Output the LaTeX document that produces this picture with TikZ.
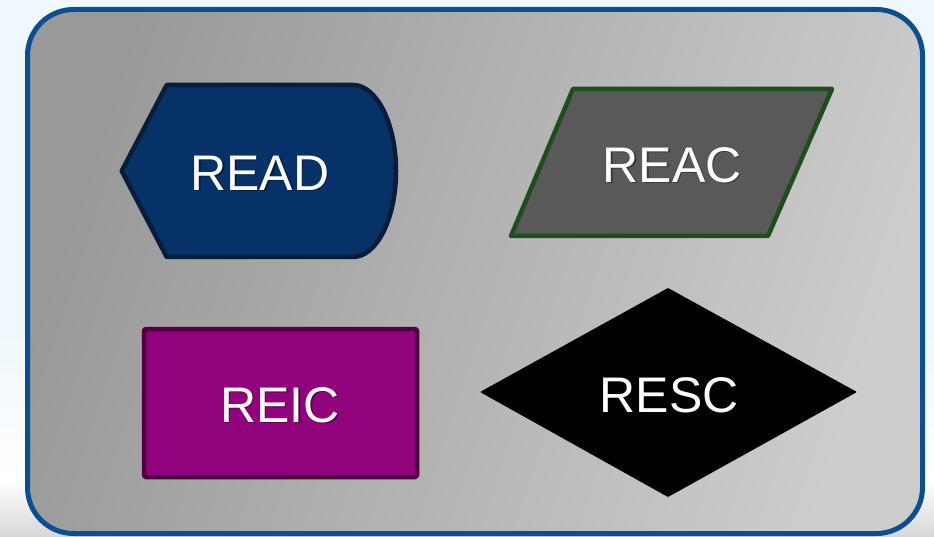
\documentclass[tikz,border=0pt]{standalone}
\usepackage{fontspec}
\setmainfont{Liberation Sans}
\begin{document}
\begin{tikzpicture}[x=1pt,y=-1pt,
  label text/.style={text=white,font=\fontsize{50}{50}\selectfont,inner sep=0pt},
  label shadow/.style={text=black,opacity=0.35,font=\fontsize{50}{50}\selectfont,inner sep=0pt},
  shapeline/.style={line width=4.5pt,line join=round}]
\definecolor{pagebg}{RGB}{239,248,253}
\definecolor{frameblue}{RGB}{10,80,145}
\definecolor{panelA}{RGB}{153,153,153}
\definecolor{panelB}{RGB}{205,205,205}
\definecolor{readfill}{RGB}{6,50,104}
\definecolor{readline}{RGB}{8,28,60}
\definecolor{reacfill}{RGB}{89,89,89}
\definecolor{reacline}{RGB}{30,78,30}
\definecolor{reicfill}{RGB}{145,3,125}
\definecolor{reicline}{RGB}{78,0,64}

% page background with a soft shadow strip at the bottom
\fill[pagebg] (0,0) rectangle (934,537);
\shade[top color=pagebg, bottom color=white] (0,330) rectangle (934,480);
\shade[top color=white, bottom color={rgb,255:red,215;green,215;blue,215}] (0,480) rectangle (934,537);
\useasboundingbox (0,0) rectangle (934,537);

% grey panel with blue frame
\shade[left color=panelA, right color=panelB, shading angle=72, rounded corners=46pt]
  (27.5,9.5) rectangle (922.5,533.5);
\draw[frameblue, line width=5pt, rounded corners=46pt]
  (27.5,9.5) rectangle (922.5,533.5);

% READ: display shape
\filldraw[readfill, draw=readline, shapeline]
  (166.7,85) -- (353,85)
  .. controls (376.7,85) and (396,123.5) .. (396,171)
  .. controls (396,218.5) and (376.7,257) .. (353,257)
  -- (166.7,257) -- (121.7,171) -- cycle;

% REAC: parallelogram
\filldraw[reacfill, draw=reacline, shapeline]
  (573,89) -- (832,89) -- (768,236) -- (511,236) -- cycle;

% REIC: rectangle
\filldraw[reicfill, draw=reicline, shapeline, rounded corners=1.5pt]
  (144,329) rectangle (417,477);

% RESC: diamond
\fill[black, rounded corners=1pt]
  (480,392) -- (668,288) -- (857,392) -- (668,497) -- cycle;

% labels
\node[label shadow] at (261.5,174.5) {READ};
\node[label text] (read) at (260,173) {READ};
\node[label shadow] at (673.5,166.5) {REAC};
\node[label text] (reac) at (672,165) {REAC};
\node[label shadow] at (281.5,406.5) {REIC};
\node[label text] (reic) at (280,405) {REIC};
\node[label text] (resc) at (669,395) {RESC};
\end{tikzpicture}
\end{document}
